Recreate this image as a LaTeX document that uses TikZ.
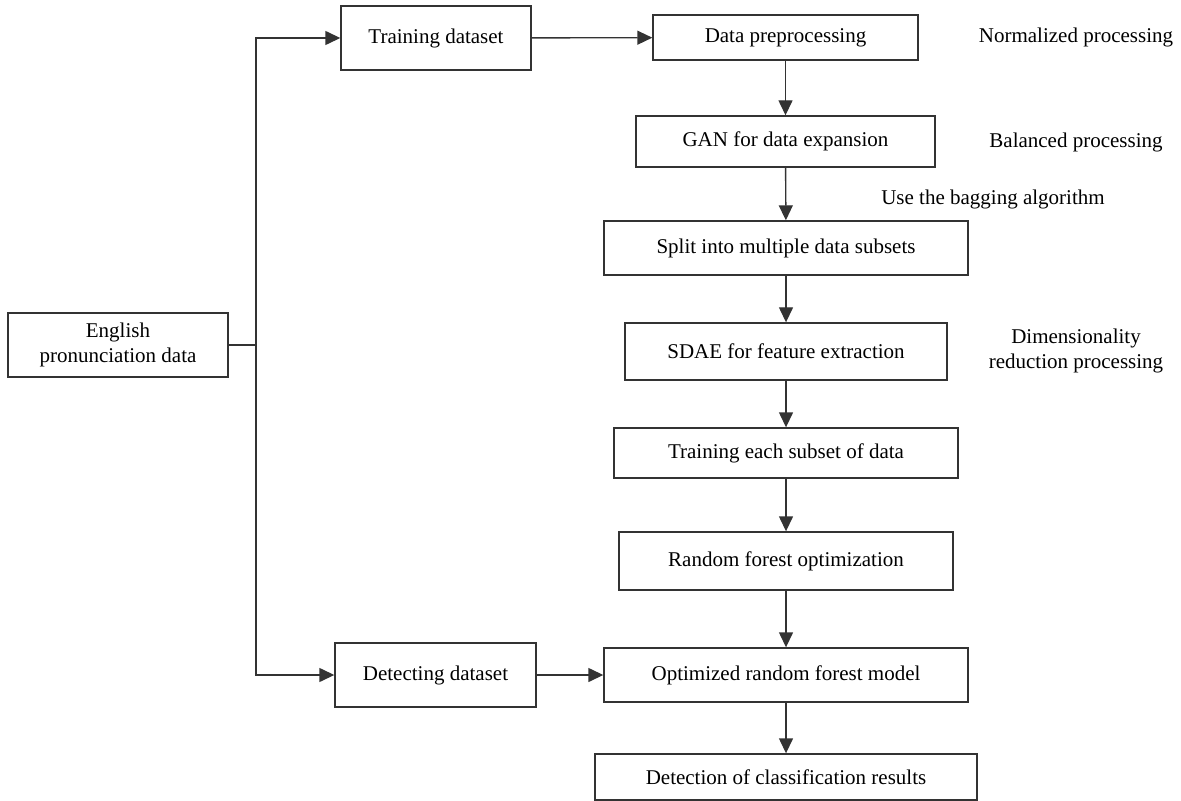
\documentclass[tikz,border=0pt]{standalone}
\usepackage{fontspec}
\setmainfont{Liberation Serif}
\usepackage{tikz}
\usetikzlibrary{arrows.meta,positioning}

\tikzset{
  box/.style={draw=black!80, rectangle, inner sep=0pt, align=center, line width=0.7pt},
  note/.style={align=center, inner sep=0pt},
}

\begin{document}
\begin{tikzpicture}[x=0.5pt,y=-0.5pt,->,>={Triangle[length=7.5pt,width=7pt]},
                    line width=0.7pt,draw=black!80,
                    font=\fontsize{10.5}{12.5}\selectfont]
  \useasboundingbox (0,0) rectangle (1181,801);

  \node[box, minimum width=110pt,   minimum height=32pt]   (eng)    at (118,345)   {English\\pronunciation data};
  \node[box, minimum width=95pt,    minimum height=32pt]   (train)  at (436,38)    {Training dataset};
  \node[box, minimum width=100.5pt, minimum height=32pt]   (detect) at (435.5,675) {Detecting dataset};

  \node[box, minimum width=132.5pt, minimum height=22.5pt] (prep)   at (785.5,37.5) {Data preprocessing};
  \node[box, minimum width=149.5pt, minimum height=25.5pt] (gan)    at (785.5,141.5) {GAN for data expansion};
  \node[box, minimum width=182pt,   minimum height=27pt]   (split)  at (786,248)   {Split into multiple data subsets};
  \node[box, minimum width=161pt,   minimum height=28.5pt] (sdae)   at (786,351.5) {SDAE for feature extraction};
  \node[box, minimum width=172pt,   minimum height=25pt]   (subset) at (786,453)   {Training each subset of data};
  \node[box, minimum width=167pt,   minimum height=29pt]   (rfopt)  at (786,561)   {Random forest optimization};
  \node[box, minimum width=182pt,   minimum height=27pt]   (model)  at (786,675)   {Optimized random forest model};
  \node[box, minimum width=191pt,   minimum height=23pt]   (result) at (786,777)   {Detection of classification results};

  \node[note] (norm) at (1076,37)  {Normalized processing};
  \node[note] (bal)  at (1076,142) {Balanced processing};
  \node[note] (bag)  at (993,199)  {Use the bagging algorithm};
  \node[note] (dim)  at (1076,351) {Dimensionality\\reduction processing};

  \coordinate (fork) at (256,345);

  \draw[-] (eng) -- (fork);
  \draw (fork) |- (train);
  \draw (fork) |- (detect);

  \path (train)  edge (prep)
        (prep)   edge (gan)
        (gan)    edge (split)
        (split)  edge (sdae)
        (sdae)   edge (subset)
        (subset) edge (rfopt)
        (rfopt)  edge (model)
        (detect) edge (model)
        (model)  edge (result);
\end{tikzpicture}
\end{document}
